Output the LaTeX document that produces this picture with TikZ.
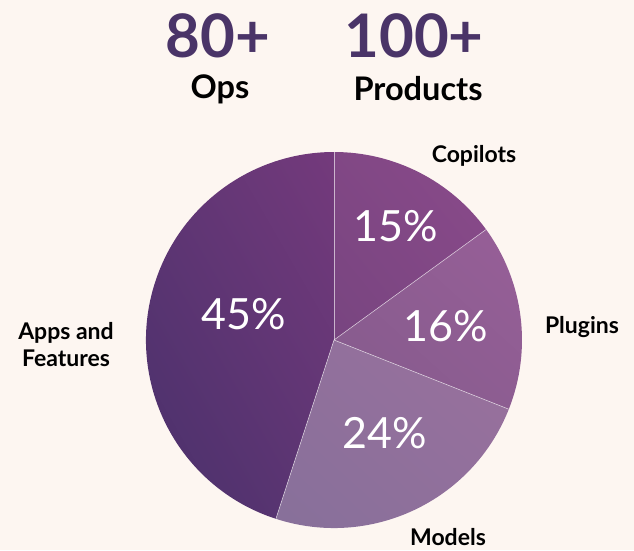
\documentclass[tikz,border=0pt]{standalone}
\usepackage{fontspec}
\setmainfont{Lato}
\usetikzlibrary{shadings,calc}
\definecolor{bgc}{HTML}{FDF6F1}
\definecolor{headc}{HTML}{4A3468}
\definecolor{appsA}{HTML}{46306A}
\definecolor{appsB}{HTML}{743A7C}
\definecolor{copA}{HTML}{784580}
\definecolor{copB}{HTML}{8A4A8A}
\definecolor{plugA}{HTML}{845B8C}
\definecolor{plugB}{HTML}{985F98}
\definecolor{modA}{HTML}{86709A}
\definecolor{modB}{HTML}{9A709D}
\begin{document}
\begin{tikzpicture}[x=1pt,y=1pt,
  headnum/.style={font=\fontsize{60}{60}\selectfont\bfseries, text=headc, inner sep=0},
  headlbl/.style={font=\fontsize{32.5}{32.5}\selectfont\bfseries, text=black, inner sep=0},
  slicelbl/.style={font=\fontsize{23}{27}\selectfont\bfseries, text=black, inner sep=0, align=center},
  pct/.style={font=\fontsize{43}{43}\selectfont, text=white, inner sep=0},
  sep/.style={draw=white, draw opacity=0.6, line width=0.6pt}]
\fill[bgc] (0,0) rectangle (634,550);
\useasboundingbox (0,0) rectangle (634,550);
\coordinate (c) at (334,210);
\def\R{188}
% wedges
\shade[lower left=appsA, upper right=appsB, lower right=appsA!50!appsB, upper left=appsA!50!appsB]
  (c) -- ++(-108:\R) arc[start angle=-108, end angle=-270, radius=\R] -- cycle;
\shade[lower left=copA, upper right=copB, lower right=copA!50!copB, upper left=copA!50!copB]
  (c) -- ++(90:\R) arc[start angle=90, end angle=36, radius=\R] -- cycle;
\shade[lower left=plugA, upper right=plugB, lower right=plugA!50!plugB, upper left=plugA!50!plugB]
  (c) -- ++(36:\R) arc[start angle=36, end angle=-21.6, radius=\R] -- cycle;
\shade[lower left=modA, upper right=modB, lower right=modA!50!modB, upper left=modA!50!modB]
  (c) -- ++(-21.6:\R) arc[start angle=-21.6, end angle=-108, radius=\R] -- cycle;
% separators
\path (c) ++(90:\R) coordinate (e1) (c) ++(36:\R) coordinate (e2)
      (c) ++(-21.6:\R) coordinate (e3) (c) ++(-108:\R) coordinate (e4);
\draw[sep] (c) -- (e1);
\draw[sep] (c) -- (e2);
\draw[sep] (c) -- (e3);
\draw[sep] (c) -- (e4);
% header
\node[headnum] (n80) at (218,514) {80+};
\node[headlbl] (ops) at (220,461) {Ops};
\node[headnum] (n100) at (414,514) {100+};
\node[headlbl] (prod) at (418,461) {Products};
% labels
\node[slicelbl] (lcop) at (474,394) {Copilots};
\node[slicelbl] (lplug) at (582,223) {Plugins};
\node[slicelbl] (lmod) at (448,13) {Models};
\node[slicelbl] (lapps) at (66,205) {Apps and\\Features};
% percentages
\node[pct] (pcop) at (396,324) {15\%};
\node[pct] (pplug) at (446,224) {16\%};
\node[pct] (papps) at (244,236) {45\%};
\node[pct] (pmod) at (385,117) {24\%};
\end{tikzpicture}
\end{document}
